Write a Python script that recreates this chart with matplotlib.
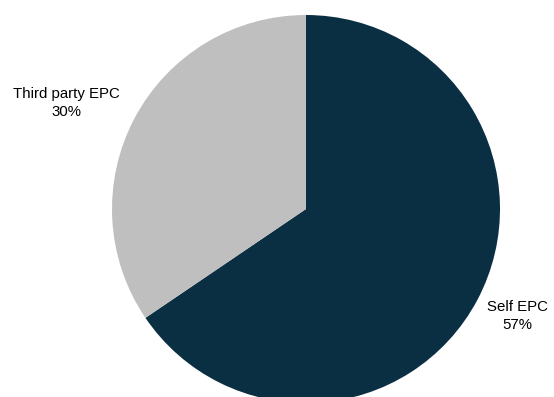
import matplotlib
matplotlib.use("Agg")
import matplotlib.pyplot as plt

# EPC split
segments = ["Self EPC", "Third party EPC"]
shares = [57, 30]
colors = ["#0B2F42", "#BFBFBF"]

# label anchor points (pixel coords, origin bottom-left)
label_xy = [(517, 81), (66, 294)]

plt.rcParams["font.family"] = ["Liberation Sans", "DejaVu Sans"]

fig = plt.figure(figsize=(5.54, 3.97), dpi=100)
ax = fig.add_axes([0, 0, 1, 1])

ax.pie(shares, colors=colors, startangle=90, counterclock=False,
       center=(306, 188), radius=194, frame=True,
       wedgeprops=dict(linewidth=0))
ax.set_xlim(0, 554)
ax.set_ylim(0, 397)
ax.axis("off")

for name, val, (x, y) in zip(segments, shares, label_xy):
    ax.text(x, y, f"{name}\n{val}%", ha="center", va="center",
            fontsize=10.8, color="#000000", linespacing=1.45)

fig.savefig("out.png", dpi=100)
